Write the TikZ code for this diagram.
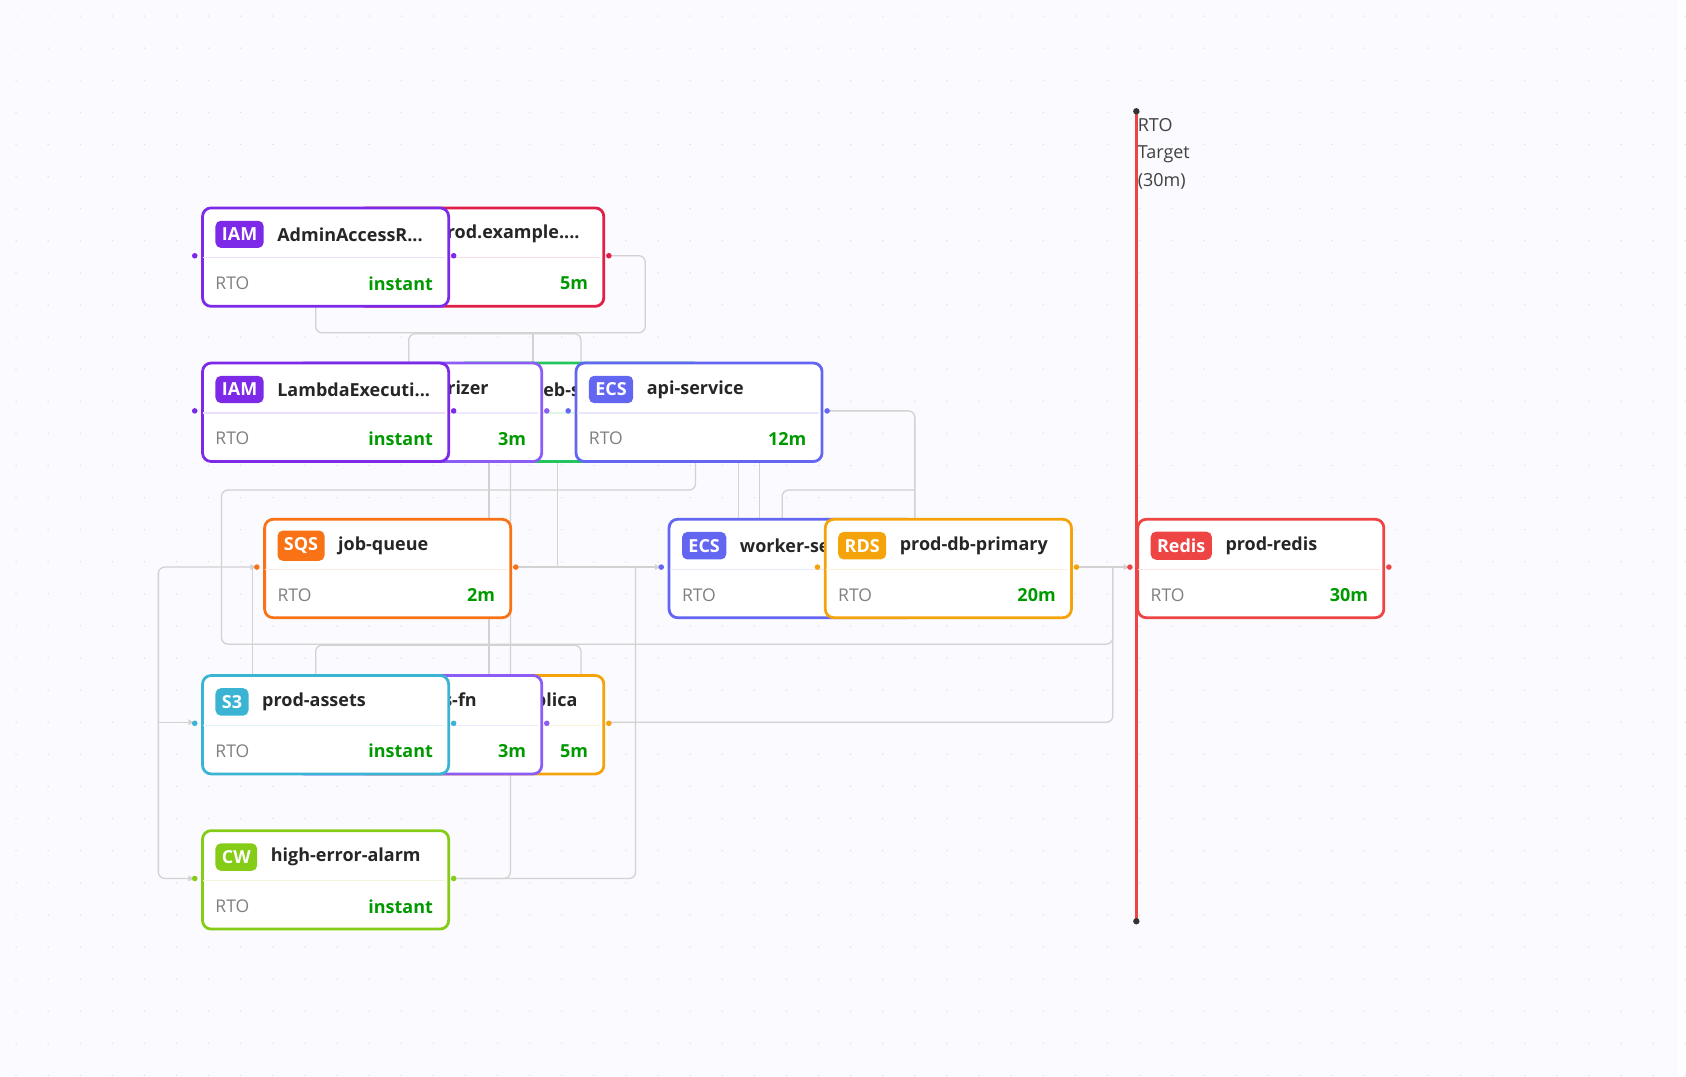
\documentclass[tikz,border=0pt]{standalone}
\usepackage{fontspec}
\setmainfont{Open Sans}
\usetikzlibrary{arrows.meta}
\begin{document}
\begin{tikzpicture}[x=0.5pt,y=-0.5pt,
  card/.style={draw=#1,line width=1.3pt,rounded corners=4pt,fill=white,minimum width=115pt,minimum height=46pt,anchor=north west,inner sep=0pt},
  badge/.style={fill=#1,rounded corners=2.5pt,text=white,font=\fontsize{8.4}{10}\selectfont\bfseries,inner xsep=3pt,minimum height=12pt,anchor=west},
  ttl/.style={font=\fontsize{8.4}{10}\selectfont\bfseries,text=black!85,inner sep=0pt},
  rto/.style={font=\fontsize{8.2}{10}\selectfont,text=gray,anchor=west,inner sep=0pt},
  val/.style={font=\fontsize{8.4}{10}\selectfont\bfseries,text=green!60!black,anchor=east,inner sep=0pt},
  wire/.style={draw=gray!35,line width=0.6pt,rounded corners=3pt},
  arr/.style={wire,-{Latex[length=3pt,width=3pt]}}]
\fill[gray!5!blue!2] (0,0) rectangle (1568,1006);
\foreach \i in {0,...,52}{\foreach \j in {0,...,33}{\fill[gray!25] (\i*30+15,\j*30+15) circle (0.35pt);}}
\newcommand\cardbase[7]{%
  \node[card=#4] (#1) at (#2,#3) {};
  \draw[#4!15,line width=0.5pt] (#2+2,#3+48) -- (#2+228,#3+48);
  \node[badge=#4] (#1b) at (#2+13,#3+26) {#5};
  \node[rto] (#1r) at (#2+13,#3+72) {RTO};
  \node[val] (#1v) at (#2+217,#3+72) {#7};
  \fill[#4] (#2-6,#3+46) circle (1.3pt) (#2+236,#3+46) circle (1.3pt);
}
\newcommand\card[7]{\cardbase{#1}{#2}{#3}{#4}{#5}{#6}{#7}%
  \node[ttl,anchor=west] (#1t) at ([xshift=6pt]#1b.east) {#6};}
\newcommand\cardE[8]{\cardbase{#1}{#2}{#3}{#4}{#5}{#6}{#7}%
  \node[ttl,anchor=east] (#1t) at (#8,#3+26) {#6};}
\newcommand\cardW[8]{\cardbase{#1}{#2}{#3}{#4}{#5}{#6}{#7}%
  \node[ttl,anchor=west] (#1t) at (#8,#3+26) {#6};}
\definecolor{cIAM}{HTML}{7C2AE8}
\definecolor{cRed}{HTML}{E11D48}
\definecolor{cLam}{HTML}{8B5CF6}
\definecolor{cGrn}{HTML}{22C55E}
\definecolor{cECS}{HTML}{6366F1}
\definecolor{cSQS}{HTML}{F97316}
\definecolor{cRDS}{HTML}{F5A30B}
\definecolor{cRedis}{HTML}{EF4444}
\definecolor{cS3}{HTML}{3BB4D4}
\definecolor{cCW}{HTML}{84CC16}
% wires
\draw[wire] (569,239) -- (603,239) -- (603,311) -- (295,311) -- (295,285);
\draw[wire] (382,338) -- (382,312) -- (543,312) -- (543,338);
\draw[wire] (498,338) -- (498,312);
\draw[wire] (457,430) -- (457,630);
\draw[wire] (477,430) -- (477,821) -- (424,821);
\draw[wire] (521,430) -- (521,530);
\draw[wire] (650,430) -- (650,458) -- (207,458) -- (207,602) -- (1040,602) -- (1040,530);
\draw[wire] (690,430) -- (690,484);
\draw[wire] (710,430) -- (710,484);
\draw[wire] (731,484) -- (731,458) -- (855,458);
\draw[wire] (773,384) -- (855,384) -- (855,484);
\draw[arr] (482,530) -- (618,530);
\draw[wire] (594,530) -- (594,821) -- (424,821);
\draw[arr] (1006,530) -- (1056,530);
\draw[wire] (1040,530) -- (1040,675) -- (569,675);
\draw[arr] (148,675) -- (148,530) -- (240,530);
\draw[arr] (148,675) -- (182,675);
\draw[arr] (148,675) -- (148,821) -- (182,821);
\draw[wire] (236,530) -- (236,630);
\draw[wire] (295,630) -- (295,603) -- (543,603) -- (543,630);
% cards
\cardE{dns}{333}{193}{cRed}{R53}{api.prod.example....}{5m}{542}
\card{admin}{188}{193}{cIAM}{IAM}{AdminAccessR...}{instant}
\cardW{web}{425}{338}{cGrn}{EC2}{web-server}{8m}{493}
\cardE{auth}{275}{338}{cLam}{$\lambda$}{api-authorizer}{3m}{457}
\card{lexec}{188}{338}{cIAM}{IAM}{LambdaExecuti...}{instant}
\card{api}{537}{338}{cECS}{ECS}{api-service}{12m}
\card{jobq}{246}{484}{cSQS}{SQS}{job-queue}{2m}
\card{worker}{624}{484}{cECS}{ECS}{worker-service}{15m}
\card{db}{770}{484}{cRDS}{RDS}{prod-db-primary}{20m}
\card{redis}{1062}{484}{cRedis}{Redis}{prod-redis}{30m}
\cardE{rep}{333}{630}{cRDS}{RDS}{prod-db-replica}{5m}{540}
\cardE{fn}{275}{630}{cLam}{$\lambda$}{process-fn}{3m}{446}
\card{s3}{188}{630}{cS3}{S3}{prod-assets}{instant}
\card{cw}{188}{775}{cCW}{CW}{high-error-alarm}{instant}
% RTO line
\coordinate (t1) at (1062,104); \coordinate (t2) at (1062,861);
\draw[cRedis,line width=1.5pt] (t1) -- (t2);
\fill[black!80] (t1) circle (1.5pt) (t2) circle (1.5pt);
\node[anchor=north west,align=left,inner sep=0pt,font=\fontsize{8.4}{13}\selectfont,text=black!75] (rt) at (1063,110) {RTO\\Target\\(30m)};
\end{tikzpicture}
\end{document}
